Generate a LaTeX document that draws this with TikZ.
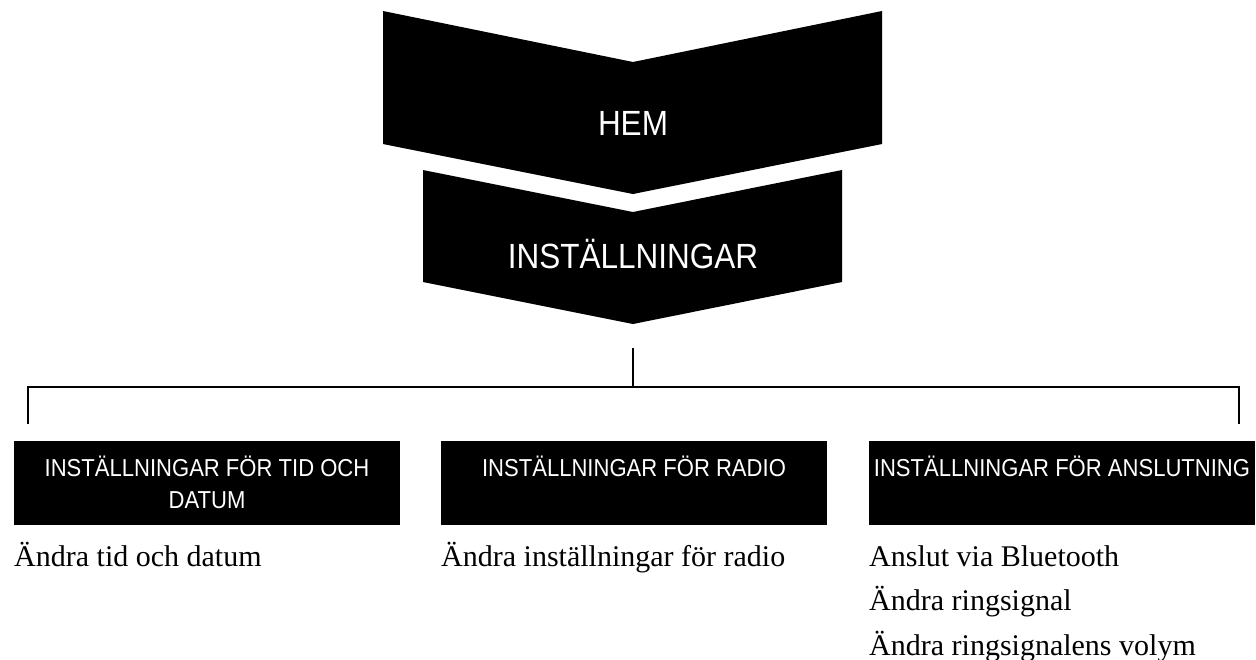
\documentclass[tikz,border=0pt]{standalone}
\usepackage{fontspec}
\setmainfont{Liberation Serif}
\newfontfamily\hdfont{Liberation Sans}[FakeStretch=0.9]
\begin{document}
\begin{tikzpicture}[x=1pt,y=-1pt,
  chev/.style={fill=black},
  bigtxt/.style={text=white,font=\hdfont\fontsize{35}{40}\selectfont,inner sep=0pt,anchor=base},
  hbox/.style={fill=black,minimum width=386pt,minimum height=84pt,inner sep=0pt,anchor=north west},
  htxt/.style={text=white,font=\hdfont\fontsize{24.5}{32}\selectfont,inner sep=0pt,anchor=base,align=center},
  btxt/.style={text=black,font=\fontsize{30}{44.5}\selectfont,inner sep=0pt,anchor=base west,align=left},
  conn/.style={draw=black,line width=2pt}]
\useasboundingbox (0,0) rectangle (1256,659);
% chevrons
\fill[chev] (383,11) -- (633,62) -- (882,11) -- (882,144) -- (633,194) -- (383,144) -- cycle;
\fill[chev] (423,170) -- (633,212) -- (842,170) -- (842,282) -- (633,324) -- (423,282) -- cycle;
\node[bigtxt] (hem) at (633,135) {HEM};
\node[bigtxt] (inst) at (633,268) {INSTÄLLNINGAR};
% boxes
\node[hbox] (b1) at (14,441) {};
\node[hbox] (b2) at (441,441) {};
\node[hbox] (b3) at (869,441) {};
% (base anchor of a multi-line node = baseline of its last line)
\node[htxt] (t1) at (207,508.5) {INSTÄLLNINGAR FÖR TID OCH\\DATUM};
\node[htxt] (t2) at (634,476.5) {INSTÄLLNINGAR FÖR RADIO};
\node[htxt] (t3) at (1062,476.5) {INSTÄLLNINGAR FÖR ANSLUTNING};
% body text
\node[btxt] (d1) at (14,566) {Ändra tid och datum};
\node[btxt] (d2) at (441,566) {Ändra inställningar för radio};
\node[btxt] (d3) at (869,655) {Anslut via Bluetooth\\Ändra ringsignal\\Ändra ringsignalens volym};
% connectors
\coordinate (stem) at (633,348);
\coordinate (hub) at (633,387);
\coordinate (lc) at (28,387);
\coordinate (rc) at (1239,387);
\coordinate (le) at (28,424);
\coordinate (re) at (1239,424);
\draw[conn] (stem) -- (hub);
\draw[conn] (le) -- (lc) -- (rc) -- (re);
\end{tikzpicture}
\end{document}
